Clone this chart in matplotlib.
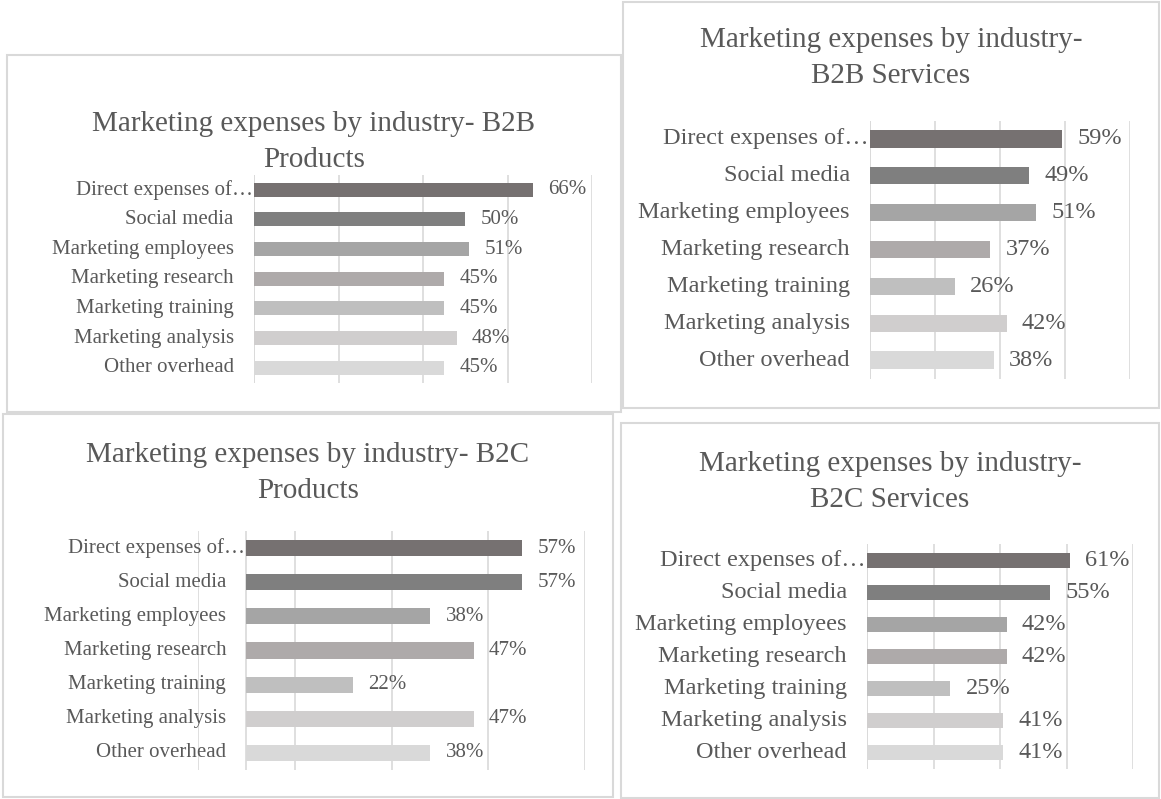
import matplotlib
matplotlib.use("Agg")
import matplotlib.pyplot as plt
from matplotlib.patches import Rectangle

plt.rcParams['font.family'] = ['Liberation Serif', 'DejaVu Serif']

# data (percent)
categories = ["Direct expenses of…", "Social media", "Marketing employees",
              "Marketing research", "Marketing training", "Marketing analysis",
              "Other overhead"]
b2b_products = [66, 50, 51, 45, 45, 48, 45]
b2b_services = [59, 49, 51, 37, 26, 42, 38]
b2c_products = [57, 57, 38, 47, 22, 47, 38]
b2c_services = [61, 55, 42, 42, 25, 41, 41]

titles = ["Marketing expenses by industry- B2B\nProducts",
          "Marketing expenses by industry-\nB2B Services",
          "Marketing expenses by industry- B2C\nProducts",
          "Marketing expenses by industry-\nB2C Services"]

bar_colors = ["#767171", "#7f7f7f", "#a5a5a5", "#aeaaaa",
              "#bfbfbf", "#d0cece", "#d9d9d9"]
txt = "#595959"
grid = "#d9d9d9"

W, H = 1161, 799
fig = plt.figure(figsize=(W / 100, H / 100), dpi=100)


def px_box(x0, y0, x1, y1):
    # pixel box (top-left origin) -> figure fraction [l, b, w, h]
    return [x0 / W, 1 - y1 / H, (x1 - x0) / W, (y1 - y0) / H]


# panel: border, axes box, x range, gridlines, title y, font size
panels = [
    dict(vals=b2b_products, border=(7, 55, 621, 412), ax=(254, 175, 592, 382.5),
         xlim=(0, 80), ticks=[0, 20, 40, 60, 80], ty=142, fs=15),
    dict(vals=b2b_services, border=(623, 2, 1159, 408), ax=(870, 120.5, 1130, 378.5),
         xlim=(0, 80), ticks=[0, 20, 40, 60, 80], ty=58, fs=17.5),
    dict(vals=b2c_products, border=(3, 414, 613, 797), ax=(198, 531, 585, 770),
         xlim=(-10, 70), ticks=[-10, 10, 30, 50, 70], ty=473.5, fs=15),
    dict(vals=b2c_services, border=(621, 423, 1159, 798), ax=(867, 544, 1133, 769),
         xlim=(0, 80), ticks=[0, 20, 40, 60, 80], ty=482, fs=17.5),
]

for p, title in zip(panels, titles):
    bx0, by0, bx1, by1 = p['border']
    fig.patches.append(Rectangle((bx0 / W, 1 - by1 / H), (bx1 - bx0) / W, (by1 - by0) / H,
                                 transform=fig.transFigure, fill=False,
                                 edgecolor=grid, linewidth=1.5))
    fig.text((bx0 + bx1) / 2 / W, 1 - p['ty'] / H, title, ha='center', va='center',
             fontsize=21, color=txt, linespacing=1.5)

    ax = fig.add_axes(px_box(*p['ax']))
    y = range(len(categories))
    ax.barh(y, p['vals'], height=0.47, color=bar_colors, zorder=3)
    ax.set_xlim(*p['xlim'])
    ax.set_ylim(len(categories) - 0.5, -0.5)
    ax.set_xticks(p['ticks'])
    ax.set_yticks([])
    ax.tick_params(axis='x', length=0, labelbottom=False)
    ax.grid(axis='x', color=grid, linewidth=1.2, zorder=0)
    for s in ax.spines.values():
        s.set_visible(False)
    ax.axvline(0, color=grid, linewidth=1.2, zorder=1)

    for i, (c, v) in enumerate(zip(categories, p['vals'])):
        off = -1 if i == 0 else -14.5
        ax.annotate(c, (0, i), xytext=(off, 0), textcoords='offset points',
                    ha='right', va='center', fontsize=p['fs'], color=txt,
                    annotation_clip=False)
        ax.annotate(f"{v}%", (v, i), xytext=(11, 0), textcoords='offset points',
                    ha='left', va='center', fontsize=p['fs'], color=txt,
                    annotation_clip=False)

fig.savefig("out.png", dpi=100, facecolor='white')
